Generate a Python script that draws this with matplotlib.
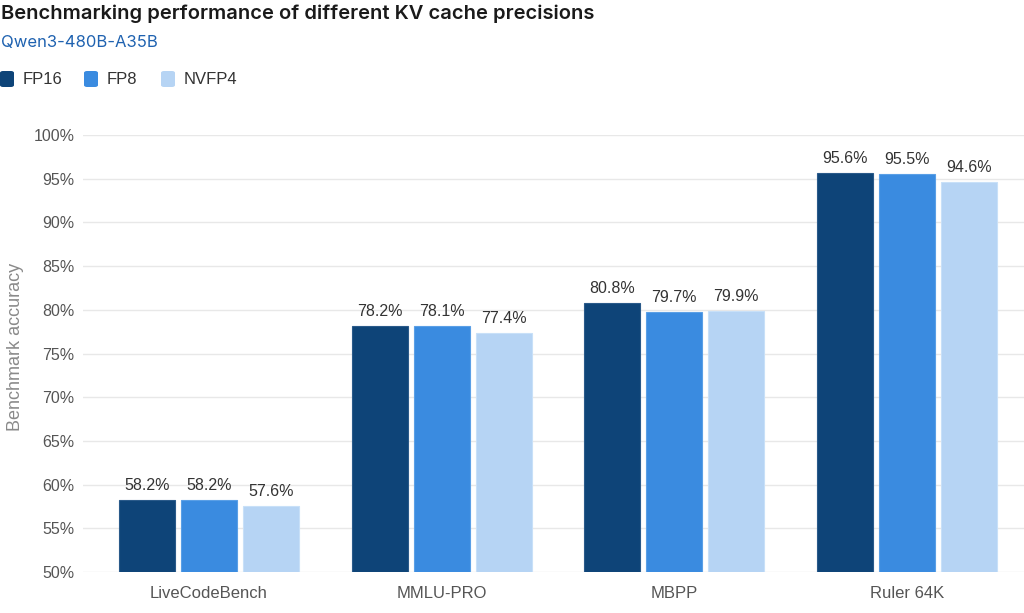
import matplotlib.pyplot as plt
from matplotlib.patches import FancyBboxPatch
import numpy as np

categories = ["LiveCodeBench", "MMLU-PRO", "MBPP", "Ruler 64K"]
series_names = ["FP16", "FP8", "NVFP4"]
fp16 = [58.2, 78.2, 80.8, 95.6]
fp8 = [58.2, 78.1, 79.7, 95.5]
nvfp4 = [57.6, 77.4, 79.9, 94.6]
colors = ["#0e4478", "#3a8be0", "#b6d4f4"]
edges = ["#2a5a8a", "#5a9fe6", "#c8e0f8"]
yticks = [50, 55, 60, 65, 70, 75, 80, 85, 90, 95, 100]

plt.rcParams['font.family'] = ['Liberation Sans', 'DejaVu Sans']
fig = plt.figure(figsize=(10.24, 6.13), dpi=100)
L, R = 83, 1024
ax = fig.add_axes([L/1024, 1-572/613, (R-L)/1024, (572-135)/613])

x = np.arange(len(categories))
unit = (907-209)/3
bw = 56/unit
step = 62/unit
for i, (vals, c, e) in enumerate(zip([fp16, fp8, nvfp4], colors, edges)):
    xs = x + (i-1)*step
    ax.bar(xs, [v-50 for v in vals], bottom=50, width=bw, color=c,
           edgecolor=e, linewidth=0.8, zorder=3)
    for xi, v in zip(xs, vals):
        ax.text(xi, v + 0.8, f"{v}%", ha='center', va='bottom', fontsize=11.5, color='#333333')

x0 = -(209-L)/unit
x1 = x0 + (R-L)/unit
ax.set_xlim(x0, x1)
ax.set_ylim(50, 100)
ax.set_yticks(yticks)
ax.set_yticklabels([f"{t}%" for t in yticks], fontsize=11.5, color='#555555')
ax.set_xticks(x)
ax.set_xticklabels(categories, fontsize=12, color='#555555')
ax.tick_params(axis='x', length=0, pad=10)
ax.tick_params(axis='y', length=0, pad=6)
ax.grid(axis='y', color='#e8e8e8', linewidth=1, zorder=0)
for s in ax.spines.values():
    s.set_visible(False)
ax.set_ylabel("Benchmark accuracy", fontsize=13, color='#8a8a8a')
ax.yaxis.set_label_coords(-(L-16)/(R-L), (572-347)/(572-135))
ax.yaxis.label.set_va('center')

fig.text(0.001, 1-14/613, "Benchmarking performance of different KV cache precisions",
         fontsize=14.5, fontweight='semibold', family=['Inter', 'DejaVu Sans'],
         color='#1a1a1a', va='center', ha='left')
fig.text(0.001, 1-42/613, "Qwen3-480B-A35B", fontsize=12, family=['Inter', 'DejaVu Sans'],
         color='#1f62b0', va='center', ha='left')

lx = [0, 84, 161]
for xp, name, c in zip(lx, series_names, colors):
    fig.patches.append(FancyBboxPatch((xp/1024, 1-87/613), 14/1024, 16/613,
                                      boxstyle="round,pad=0,rounding_size=0.003",
                                      transform=fig.transFigure, facecolor=c, edgecolor='none'))
    fig.text((xp+23)/1024, 1-79/613, name, fontsize=12, color='#333333', va='center', ha='left')

fig.savefig("out.png", dpi=100)
